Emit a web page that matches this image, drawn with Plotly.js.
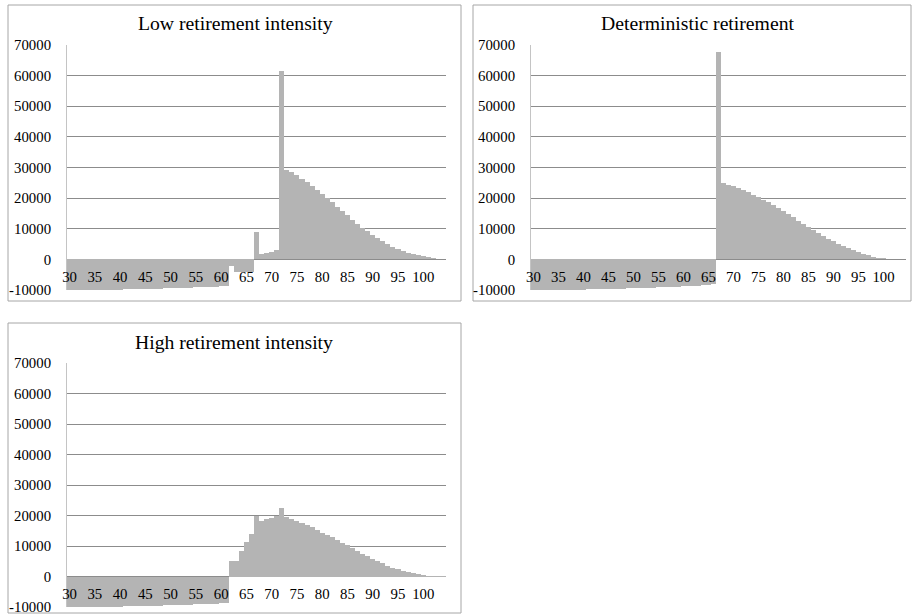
<!DOCTYPE html>
<html>
<head>
<meta charset="utf-8">
<script src="https://cdn.plot.ly/plotly-3.0.1.min.js"></script>
<style>html,body{margin:0;padding:0;background:#fff;}#chart{width:912px;height:616px;}</style>
</head>
<body>
<div id="chart"></div>
<script>
// ---- DATA ----
const ages = [30,31,32,33,34,35,36,37,38,39,40,41,42,43,44,45,46,47,48,49,50,51,52,53,54,55,56,57,58,59,60,61,62,63,64,65,66,67,68,69,70,71,72,73,74,75,76,77,78,79,80,81,82,83,84,85,86,87,88,89,90,91,92,93,94,95,96,97,98,99,100,101,102,103,104];
const xTickVals = [30,35,40,45,50,55,60,65,70,75,80,85,90,95,100];
const xTickText = ["30","35","40","45","50","55","60","65","70","75","80","85","90","95","100"];
const yTickVals = [-10000,0,10000,20000,30000,40000,50000,60000,70000];
const yTickText = ["-10000","0","10000","20000","30000","40000","50000","60000","70000"];
const panelTitles = ["Low retirement intensity","Deterministic retirement","High retirement intensity"];

const lowIntensity = [
  -10000,-9995,-9988,-9978,-9966,-9952,-9935,-9916,-9895,-9871,-9845,-9817,-9786,-9753,-9718,-9680,
  -9640,-9598,-9553,-9506,-9457,-9405,-9351,-9295,-9236,-9175,-9112,-9046,-8978,-8908,-8835,-8760,
  -2000,-4000,-4000,-4000,-4000,
  9000,1900,2200,2500,2900,61600,29300,28500,27500,26400,25200,24000,22700,21400,20000,18600,17200,
  15800,14400,13000,11700,10400,9200,8000,6900,5900,5000,4200,3500,2800,2200,1700,1300,950,650,400,200,80
];
const deterministic = [
  -10000,-9995,-9988,-9978,-9966,-9952,-9935,-9916,-9895,-9871,-9845,-9817,-9786,-9753,-9718,-9680,
  -9640,-9598,-9553,-9506,-9457,-9405,-9351,-9295,-9236,-9175,-9112,-9046,-8978,-8908,-8835,-8760,
  -8670,-8560,-8440,-8300,-8150,
  67600,25000,24400,23900,23300,22600,21900,21100,20300,19500,18700,17800,16800,15800,14800,13700,12600,
  11500,10500,9600,8600,7700,6800,5900,5100,4300,3600,2900,2300,1800,1300,900,600,400,250,130,60,20
];
const highIntensity = [
  -10000,-9995,-9988,-9978,-9966,-9952,-9935,-9916,-9895,-9871,-9845,-9817,-9786,-9753,-9718,-9680,
  -9640,-9598,-9553,-9506,-9457,-9405,-9351,-9295,-9236,-9175,-9112,-9046,-8978,-8908,-8835,-8760,
  5100,5100,8200,11400,14000,
  19800,18100,18800,19300,19800,22600,19600,19000,18300,17600,16900,16100,15300,14400,13600,12800,11900,
  11000,10200,9300,8400,7500,6600,5800,5000,4300,3600,2900,2400,1900,1400,1000,700,450,280,150,70,30
];

// ---- LAYOUT ----
const W = 912, H = 616;
const px = v => v / W;
const py = v => 1 - v / H;
const barColor = '#b4b4b4';
const fontFam = 'Liberation Serif, Times New Roman, serif';
const tickFont = {family: fontFam, size: 14.8, color: '#000'};

const panels = [
  {data: lowIntensity, xd: [67, 446], yd: [290, 45], title: panelTitles[0], tx: 235, ty: 23, box: [8, 5, 461, 301]},
  {data: deterministic, xd: [531, 906], yd: [290, 45], title: panelTitles[1], tx: 698, ty: 23, box: [473, 5, 911, 301]},
  {data: highIntensity, xd: [67, 446], yd: [607, 363], title: panelTitles[2], tx: 234, ty: 342, box: [8, 323, 461, 613]}
];

const traces = [];
const layout = {
  width: W, height: H,
  margin: {l: 0, r: 0, t: 0, b: 0},
  paper_bgcolor: '#fff', plot_bgcolor: 'rgba(0,0,0,0)',
  showlegend: false, bargap: 0,
  shapes: [], annotations: []
};

panels.forEach((p, i) => {
  const n = i === 0 ? '' : String(i + 1);
  const yDom = [py(p.yd[0]), py(p.yd[1])];
  traces.push({
    type: 'bar', x: ages, y: p.data,
    xaxis: 'x' + n, yaxis: 'y' + n,
    marker: {color: barColor, line: {width: 0}},
    hoverinfo: 'x+y'
  });
  layout['xaxis' + n] = {
    domain: [px(p.xd[0]), px(p.xd[1])],
    anchor: 'free',
    position: yDom[0] + (yDom[1] - yDom[0]) / 8,
    range: [29.5, 104.5],
    tickmode: 'array', tickvals: xTickVals, ticktext: xTickText,
    showgrid: false, zeroline: false, showline: false, ticks: '',
    tickfont: tickFont, ticklabelstandoff: 7, fixedrange: true
  };
  layout['yaxis' + n] = {
    domain: yDom,
    anchor: 'x' + n,
    range: [-10000, 70000],
    tickmode: 'array', tickvals: yTickVals, ticktext: yTickText,
    showgrid: true, gridcolor: '#8c8c8c', gridwidth: 1,
    zeroline: false, showline: true, linecolor: '#c4c4c4', linewidth: 1,
    ticks: '', tickfont: tickFont, ticklabelstandoff: 12, fixedrange: true
  };
  layout.shapes.push({
    type: 'rect', xref: 'paper', yref: 'paper',
    x0: px(p.box[0]), x1: px(p.box[2]), y0: py(p.box[3]), y1: py(p.box[1]),
    line: {color: '#a6a6a6', width: 1}, fillcolor: 'rgba(0,0,0,0)', layer: 'below'
  });
  layout.annotations.push({
    xref: 'paper', yref: 'paper', x: px(p.tx), y: py(p.ty),
    xanchor: 'center', yanchor: 'middle', showarrow: false,
    text: p.title, font: {family: fontFam, size: 19.7, color: '#000'}
  });
});

Plotly.newPlot('chart', traces, layout, {displayModeBar: false, staticPlot: true});
</script>
</body>
</html>
